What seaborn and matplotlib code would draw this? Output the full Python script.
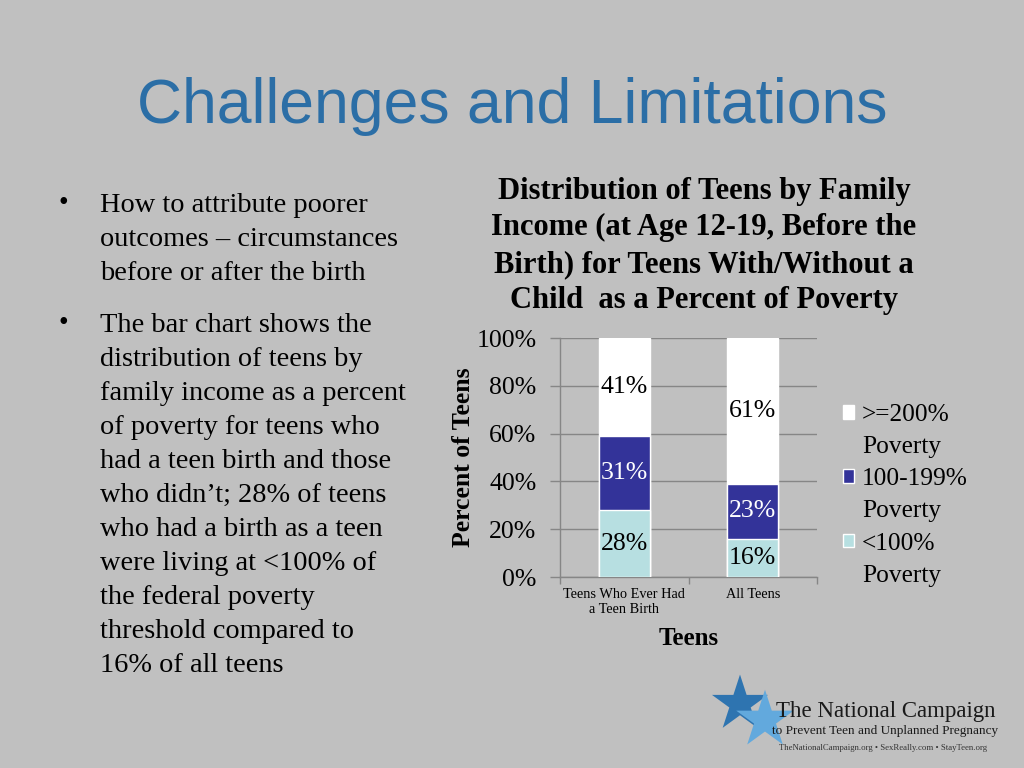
import matplotlib
matplotlib.use("Agg")
import matplotlib.pyplot as plt
from matplotlib.patches import Patch
import pandas as pd
import seaborn as sns

# Datos del grafico
categorias = ["Teens Who Ever Had\na Teen Birth", "All Teens"]
bajo_100 = [28, 16]
entre_100_199 = [31, 23]
sobre_200 = [41, 61]
etiquetas_serie = [">=200%", "Poverty", "100-199%", "Poverty", "<100%", "Poverty"]
ticks_y = [0, 20, 40, 60, 80, 100]

fondo = "#c0c0c0"
col_blanco = "#ffffff"
col_azul = "#333399"
col_cian = "#b7dfe1"

sns.set_theme(style="white")
plt.rcParams["font.family"] = ["Liberation Serif", "DejaVu Serif"]
plt.rcParams["text.color"] = "black"
plt.rcParams["axes.labelcolor"] = "black"
plt.rcParams["xtick.color"] = "black"
plt.rcParams["ytick.color"] = "black"

fig = plt.figure(figsize=(10.24, 7.68), dpi=100, facecolor=fondo)

# Titulo de la diapositiva
fig.text(0.5, 1 - 123 / 768, "Challenges and Limitations", ha="center", va="baseline",
         fontsize=45, color="#2b6ea6", family=["Liberation Sans", "DejaVu Sans"])

# Texto de viñetas
b1 = "How to attribute poorer\noutcomes \u2013 circumstances\nbefore or after the birth"
b2 = ("The bar chart shows the\ndistribution of teens by\nfamily income as a percent\n"
      "of poverty for teens who\nhad a teen birth and those\nwho didn\u2019t; 28% of teens\n"
      "who had a birth as a teen\nwere living at <100% of\nthe federal poverty\n"
      "threshold compared to\n16% of all teens")
fig.text(58 / 1024, 1 - 204 / 768, "\u2022", fontsize=20, va="center")
fig.text(100 / 1024, 1 - 193 / 768, b1, fontsize=20.4, va="top", linespacing=1.47)
fig.text(58 / 1024, 1 - 324 / 768, "\u2022", fontsize=20, va="center")
fig.text(100 / 1024, 1 - 313 / 768, b2, fontsize=20.4, va="top", linespacing=1.475)

# Titulo del grafico
fig.text(704 / 1024, 1 - 246 / 768,
         "Distribution of Teens by Family\nIncome (at Age 12-19, Before the\n"
         "Birth) for Teens With/Without a\nChild  as a Percent of Poverty",
         ha="center", va="center", fontsize=22, fontweight="bold", linespacing=1.34)

ax = fig.add_axes([560 / 1024, 1 - 577 / 768, 257 / 1024, 239 / 768])
ax.set_facecolor(fondo)

df = pd.DataFrame({"cat": categorias, "bajo": bajo_100, "medio": entre_100_199, "alto": sobre_200})
df["c1"] = df["bajo"]
df["c2"] = df["bajo"] + df["medio"]
df["c3"] = df["c2"] + df["alto"]

sns.barplot(data=df, x="cat", y="c3", color=col_blanco, width=0.4, saturation=1, ax=ax, zorder=2)
sns.barplot(data=df, x="cat", y="c2", color=col_azul, width=0.4, saturation=1, ax=ax, zorder=3)
sns.barplot(data=df, x="cat", y="c1", color=col_cian, width=0.4, saturation=1, ax=ax, zorder=4)

for i, fila in df.iterrows():
    ax.text(i, fila["c1"] / 2, f"{fila['bajo']}%", ha="center", va="center", fontsize=18.5, color="black", zorder=5)
    ax.text(i, (fila["c1"] + fila["c2"]) / 2, f"{fila['medio']}%", ha="center", va="center", fontsize=18.5, color="white", zorder=5)
    ax.text(i, (fila["c2"] + fila["c3"]) / 2, f"{fila['alto']}%", ha="center", va="center", fontsize=18.5, color="black", zorder=5)

ax.set_ylim(0, 100)
ax.set_xlim(-0.5, 1.5)
ax.set_yticks(ticks_y)
ax.set_yticklabels([f"{t}%" for t in ticks_y], fontsize=18.5)
ax.yaxis.grid(True, color="#868686", linewidth=1, zorder=0)
ax.set_axisbelow(True)
ax.tick_params(axis="y", which="major", direction="out", length=7, width=1, color="#868686", pad=10, left=True)
ax.tick_params(axis="x", which="major", length=0, labelsize=10.3, pad=8)
ax.set_xticks([-0.5, 0.5, 1.5], minor=True)
ax.tick_params(axis="x", which="minor", direction="out", length=5, width=1, color="#868686", bottom=True)
for s in ["top", "right"]:
    ax.spines[s].set_visible(False)
for s in ["left", "bottom"]:
    ax.spines[s].set_color("#868686")
    ax.spines[s].set_linewidth(1)

ax.set_ylabel("Percent of Teens", fontsize=18.5, fontweight="bold", labelpad=1)
ax.set_xlabel("Teens", fontsize=18, fontweight="bold", labelpad=8)

invisible = Patch(facecolor="none", edgecolor="none")
manijas = [Patch(facecolor=col_blanco), invisible, Patch(facecolor=col_azul), invisible,
           Patch(facecolor=col_cian), invisible]
fig.legend(manijas, etiquetas_serie, loc="upper left", bbox_to_anchor=(843 / 1024, 1 - 404 / 768),
           frameon=False, fontsize=18.3, handlelength=0.45, handleheight=0.45, handletextpad=0.3,
           labelspacing=0.4, borderpad=0, borderaxespad=0)

# Logotipo
lax = fig.add_axes([0, 0, 1, 1], facecolor="none")
lax.set_xlim(0, 1024)
lax.set_ylim(768, 0)
lax.axis("off")
lax.scatter([740], [704], marker="*", s=1800, color="#2e74b0", edgecolors="none")
lax.scatter([765], [720], marker="*", s=1900, color="#62a9dd", edgecolors="none")
lax.text(776, 712, "The National Campaign", fontsize=16.5, va="center", ha="left", color="#1a1a1a")
lax.text(772, 731, "to Prevent Teen and Unplanned Pregnancy", fontsize=9.5, va="center", ha="left", color="#1a1a1a")
lax.text(779, 748, "TheNationalCampaign.org \u2022 SexReally.com \u2022 StayTeen.org", fontsize=6.3,
         va="center", ha="left", color="#333333")

fig.savefig("out.png", dpi=100, facecolor=fondo)
